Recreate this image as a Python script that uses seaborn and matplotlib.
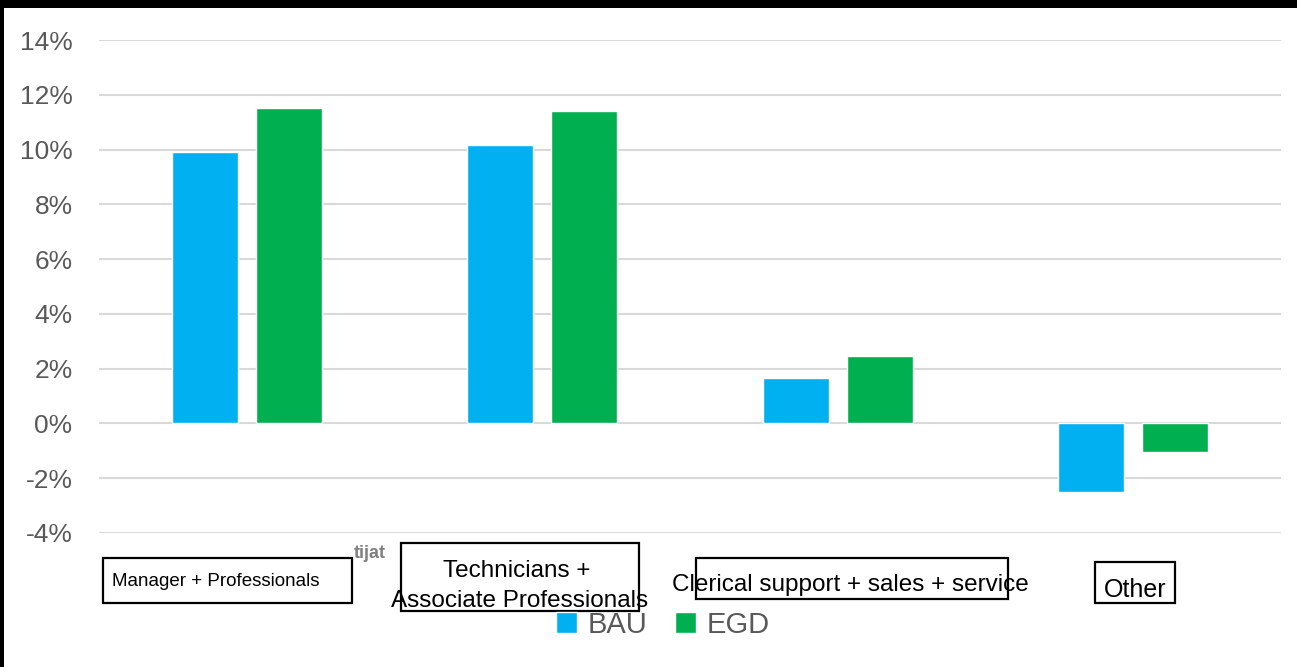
import matplotlib
matplotlib.use('Agg')
import matplotlib.pyplot as plt
from matplotlib.patches import Rectangle
from matplotlib.ticker import FuncFormatter, MultipleLocator
import pandas as pd
import seaborn as sns

categories = ['Manager + Professionals', 'Technicians + Associate Professionals',
              'Clerical support + sales + service', 'Other']
series = ['BAU', 'EGD']
bau = [9.9, 10.15, 1.65, -2.52]
egd = [11.5, 11.4, 2.45, -1.03]
colors = {'BAU': '#00B0F0', 'EGD': '#00B050'}

df = pd.DataFrame({
    'category': categories * 2,
    'scenario': ['BAU'] * len(bau) + ['EGD'] * len(egd),
    'value': bau + egd,
})

sns.set_theme(style='white')
plt.rcParams['font.family'] = ['Liberation Sans', 'DejaVu Sans']

W, H = 1297, 667
fig = plt.figure(figsize=(W / 100, H / 100), dpi=100)
ax = fig.add_axes([99 / W, 1 - 533 / H, 1182 / W, 493 / H])

sns.barplot(data=df, x='category', y='value', hue='scenario', palette=colors,
            width=0.5685, gap=0.214, ax=ax, saturation=1, legend=True)

ax.set_ylim(-4, 14)
ax.set_xlim(-0.5, 3.5)
ax.yaxis.set_major_locator(MultipleLocator(2))
ax.yaxis.set_major_formatter(FuncFormatter(lambda v, p: f'{v:.0f}%'))
ax.grid(axis='y', color='#D9D9D9', linewidth=1.5)
ax.set_axisbelow(True)
for s in ax.spines.values():
    s.set_visible(False)
ax.tick_params(axis='y', length=0, pad=19, labelsize=19, labelcolor='#595959')
ax.set_xticks(range(len(categories)))
ax.set_xticklabels([''] * len(categories))
ax.tick_params(axis='x', length=0)
ax.set_xlabel('')
ax.set_ylabel('')

handles, labels = ax.get_legend_handles_labels()
ax.get_legend().remove()
fig.legend(handles, labels, loc='center', bbox_to_anchor=(0.511, 1 - 625 / H),
           ncol=2, frameon=False, fontsize=21, labelcolor='#595959',
           handlelength=0.72, handleheight=0.72, handletextpad=0.38,
           columnspacing=0.93, borderpad=0)

# remnant of original label behind the boxes
fig.text(370 / W, 1 - 554 / H, 'tijat', ha='center', va='center',
         fontsize=13, fontweight='bold', color='#7F7F7F')

# boxed category labels (pixel boxes: x0, y0, x1, y1)
boxes = [(103, 558, 352, 603), (401, 543, 639, 611), (696, 558, 1008, 599), (1095, 562, 1175, 603)]
for x0, y0, x1, y1 in boxes:
    fig.add_artist(Rectangle((x0 / W, 1 - y1 / H), (x1 - x0) / W, (y1 - y0) / H,
                             transform=fig.transFigure, facecolor='white',
                             edgecolor='black', linewidth=1.6, zorder=3))

fig.text(216 / W, 1 - 581 / H, 'Manager + Professionals', ha='center', va='center',
         fontsize=13.5, color='black', zorder=4)
fig.text(517 / W, 1 - 571 / H, 'Technicians +', ha='center', va='center',
         fontsize=17.5, color='black', zorder=4)
fig.text(520 / W, 1 - 601 / H, 'Associate Professionals', ha='center', va='center',
         fontsize=17.5, color='black', zorder=4)
fig.text(850 / W, 1 - 585 / H, 'Clerical support + sales + service', ha='center', va='center',
         fontsize=17.5, color='black', zorder=4)
fig.text(1135 / W, 1 - 590 / H, 'Other', ha='center', va='center',
         fontsize=18, color='black', zorder=4)

# black frame edges at top and left
fig.add_artist(Rectangle((0, 1 - 8 / H), 1, 8 / H, transform=fig.transFigure,
                         facecolor='black', edgecolor='none', zorder=5))
fig.add_artist(Rectangle((0, 0), 4 / W, 1, transform=fig.transFigure,
                         facecolor='black', edgecolor='none', zorder=5))

fig.savefig('out.png', dpi=100, facecolor='white')
